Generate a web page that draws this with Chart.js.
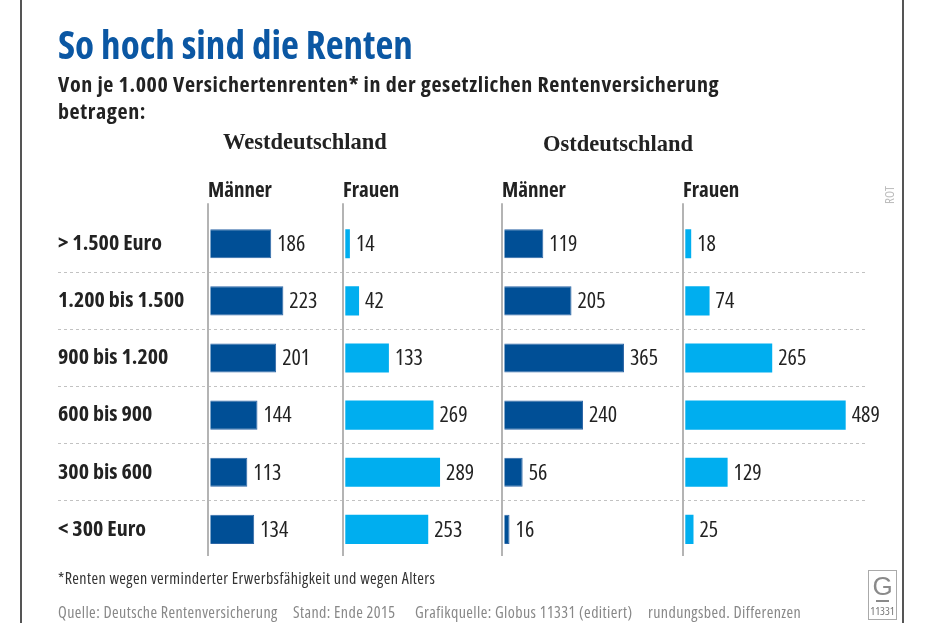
<!DOCTYPE html>
<html><head><meta charset="utf-8">
<script src="https://cdn.jsdelivr.net/npm/chart.js@4.4.1/dist/chart.umd.min.js"></script>
<style>
body{margin:0;background:#fff;}
#wrap{position:relative;width:928px;height:623px;overflow:hidden;background:#fff;font-family:'Open Sans',sans-serif;font-stretch:75%;}
#chartBox{position:absolute;left:0;top:0;width:928px;height:623px;}
.t{position:absolute;white-space:nowrap;}
.serif{font-family:'Liberation Serif','DejaVu Serif',serif;font-stretch:100%;font-weight:bold;font-size:22.5px;line-height:26px;color:#222;}
.foot{font-size:16px;line-height:18px;letter-spacing:0.4px;}
.vline{position:absolute;top:0;width:2px;height:623px;background:#555;}
</style></head><body>
<div id="wrap">
 <div id="chartBox"><canvas id="c"></canvas></div>
 <div class="vline" style="left:20px"></div>
 <div class="vline" style="left:902px"></div>
 <div class="t" style="left:58px;top:23px;font-size:39px;line-height:42px;font-weight:bold;color:#0b57a3;">So hoch sind die Renten</div>
 <div class="t" style="left:58px;top:70px;font-size:22px;line-height:27px;font-weight:bold;letter-spacing:0.6px;color:#222;">Von je 1.000 Versichertenrenten* in der gesetzlichen Rentenversicherung<br>betragen:</div>
 <div class="t serif" style="left:223px;top:129px;">Westdeutschland</div>
 <div class="t serif" style="left:543px;top:131px;">Ostdeutschland</div>
 <div class="t" style="left:875px;top:187px;width:28px;text-align:center;font-size:13px;line-height:16px;color:#bdbdbd;transform:rotate(-90deg);">ROT</div>
 <div class="t foot" style="left:58px;top:569px;color:#333;">*Renten wegen verminderter Erwerbsfähigkeit und wegen Alters</div>
 <div class="t foot" style="left:58px;top:603px;color:#888;">Quelle: Deutsche Rentenversicherung</div>
 <div class="t foot" style="left:293px;top:603px;color:#888;">Stand: Ende 2015</div>
 <div class="t foot" style="left:415px;top:603px;color:#888;">Grafikquelle: Globus 11331 (editiert)</div>
 <div class="t foot" style="left:648px;top:603px;color:#888;">rundungsbed. Differenzen</div>
 <div class="t" style="left:868px;top:570px;width:27px;height:48px;border:1px solid #aaa;">
   <div style="position:absolute;left:0;top:1px;width:27px;text-align:center;font-family:'Liberation Sans','DejaVu Sans',sans-serif;font-size:26px;line-height:28px;color:#8a8a8a;">G</div>
   <div style="position:absolute;left:7px;top:29px;width:13px;height:2px;background:#8a8a8a;"></div>
   <div style="position:absolute;left:0;top:33px;width:27px;text-align:center;font-size:11.5px;line-height:14px;color:#777;">11331</div>
 </div>
</div>
<script>
const categories = ['> 1.500 Euro', '1.200 bis 1.500', '900 bis 1.200', '600 bis 900', '300 bis 600', '< 300 Euro'];
const panelTitles = ['Männer', 'Frauen', 'Männer', 'Frauen'];
const westMen   = [186, 223, 201, 144, 113, 134];
const westWomen = [14, 42, 133, 269, 289, 253];
const eastMen   = [119, 205, 365, 240, 56, 16];
const eastWomen = [18, 74, 265, 489, 129, 25];

const FAMILY = "'Open Sans', sans-serif";
const DARK = '#004f96';
const LIGHT = '#00aeef';
const axisIds = ['xWM', 'xWF', 'xOM', 'xOF'];
const panelWeights = [135, 159, 181, 185];
const panelMax = [405, 478, 545, 557];

const valueLabels = {
  id: 'valueLabels',
  afterDatasetsDraw(chart) {
    const ctx = chart.ctx;
    ctx.save();
    ctx.font = 'condensed 22px ' + FAMILY;
    ctx.fillStyle = '#222';
    ctx.textBaseline = 'middle';
    ctx.textAlign = 'left';
    chart.data.datasets.forEach((ds, i) => {
      chart.getDatasetMeta(i).data.forEach((bar, j) => {
        ctx.fillText(String(ds.data[j]), bar.x + 6, bar.y + 1);
      });
    });
    ctx.restore();
  }
};

const panelLines = {
  id: 'panelLines',
  beforeDatasetsDraw(chart) {
    const ctx = chart.ctx;
    const area = chart.chartArea;
    ctx.save();
    ctx.strokeStyle = '#b4b4b4';
    ctx.lineWidth = 2;
    axisIds.forEach(id => {
      const s = chart.scales[id];
      const x = Math.round(s.left);
      ctx.beginPath();
      ctx.moveTo(x, area.top - 12);
      ctx.lineTo(x, area.bottom - 2);
      ctx.stroke();
    });
    ctx.restore();
  }
};

function xAxis(i) {
  return {
    type: 'linear',
    position: 'top',
    stack: 'panels',
    stackWeight: panelWeights[i],
    weight: axisIds.length - i,
    min: -7,
    max: panelMax[i],
    display: true,
    ticks: { display: false },
    grid: { display: false, drawTicks: false },
    border: { display: false },
    title: {
      display: true, text: panelTitles[i], align: 'start', color: '#222',
      font: { family: FAMILY, size: 21, weight: 'bold condensed', lineHeight: 1.2 },
      padding: { top: 0, bottom: 12 }
    }
  };
}

const series = [westMen, westWomen, eastMen, eastWomen];
const colors = [DARK, LIGHT, DARK, LIGHT];
const gridColor = (c) => (c.index > 0 && c.index < categories.length) ? '#c2c2c2' : 'rgba(0,0,0,0)';

new Chart(document.getElementById('c'), {
  type: 'bar',
  data: {
    labels: categories,
    datasets: series.map((d, i) => ({
      data: d,
      xAxisID: axisIds[i],
      yAxisID: 'y',
      backgroundColor: colors[i],
      borderColor: colors[i] === DARK ? '#2d66a6' : LIGHT,
      borderWidth: colors[i] === DARK ? 1 : 0,
      grouped: false,
      categoryPercentage: 0.51,
      barPercentage: 1
    }))
  },
  options: {
    indexAxis: 'y',
    responsive: true,
    maintainAspectRatio: false,
    animation: false,
    events: [],
    layout: { padding: { left: 58, right: 60, top: 178, bottom: 65 } },
    plugins: { legend: { display: false }, tooltip: { enabled: false }, title: { display: false } },
    scales: {
      y: {
        type: 'category',
        position: 'left',
        afterFit(scale) { scale.width = 150; scale.paddingTop = 0; scale.paddingBottom = 0; },
        ticks: { crossAlign: 'far', color: '#222', padding: 0, font: { family: FAMILY, size: 22, weight: 'bold condensed' } },
        grid: {
          offset: true, color: gridColor, lineWidth: 1,
          drawTicks: true, tickLength: 150, tickColor: gridColor, tickWidth: 1, tickBorderDash: [3, 3]
        },
        border: { display: false, dash: [3, 3] }
      },
      xWM: xAxis(0), xWF: xAxis(1), xOM: xAxis(2), xOF: xAxis(3)
    }
  },
  plugins: [panelLines, valueLabels]
});
</script>
</body></html>
